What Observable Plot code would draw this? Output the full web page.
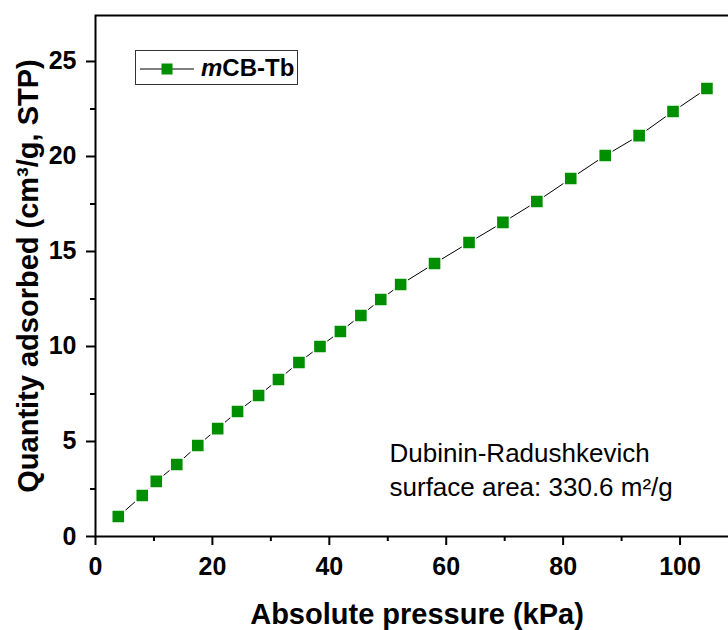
<!DOCTYPE html>
<html>
<head>
<meta charset="utf-8">
<script src="https://cdn.jsdelivr.net/npm/d3@7"></script>
<script src="https://cdn.jsdelivr.net/npm/@observablehq/plot@0.6"></script>
<style>
  html, body { margin: 0; padding: 0; background: white; }
  #wrap { position: relative; width: 728px; height: 630px; overflow: hidden; font-family: Arial, "Liberation Sans", sans-serif; }
  #legend { position: absolute; left: 135px; top: 50px; width: 163px; height: 35px; border: 1px solid #333; box-sizing: border-box; background: white; }
  #legend svg { position: absolute; left: 0; top: 0; }
  #legend .lab { position: absolute; left: 65px; top: 3px; font-size: 24px; font-weight: bold; line-height: 27px; color: #000; }
</style>
</head>
<body>
<div id="wrap"></div>
<script>
// Data
const pressure = [3.9, 8.0, 10.4, 13.9, 17.5, 20.9, 24.3, 27.9, 31.3, 34.8, 38.4, 41.9, 45.4, 48.8, 52.2, 58.0, 63.9, 69.7, 75.5, 81.3, 87.2, 93.0, 98.8, 104.6];
const quantity = [1.05, 2.16, 2.9, 3.79, 4.79, 5.68, 6.58, 7.42, 8.26, 9.16, 10.0, 10.79, 11.63, 12.47, 13.26, 14.37, 15.47, 16.53, 17.63, 18.84, 20.05, 21.1, 22.37, 23.58];
const seriesName = "mCB-Tb";
const xMajorTicks = [0, 20, 40, 60, 80, 100];
const xMinorTicks = [10, 30, 50, 70, 90];
const yMajorTicks = [0, 5, 10, 15, 20, 25];
const yMinorTicks = [2.5, 7.5, 12.5, 17.5, 22.5];
const xLabel = "Absolute pressure (kPa)";
const yLabel = "Quantity adsorbed (cm³/g, STP)";
const noteLines = ["Dubinin-Radushkevich", "surface area: 330.6 m²/g"];
const noteX = [50.3, 50.3];
const noteY = [3.9, 2.15];

const data = pressure.map((p, i) => ({p, q: quantity[i]}));
const notes = noteLines.map((t, i) => ({t, x: noteX[i], y: noteY[i]}));
const green = "#008f00";
const font = "Arial, 'Liberation Sans', sans-serif";

const chart = Plot.plot({
  width: 728,
  height: 630,
  marginLeft: 95,
  marginRight: -10,
  marginTop: 15,
  marginBottom: 94,
  style: {fontFamily: font, background: "white", overflow: "hidden"},
  x: {domain: [0, 110]},
  y: {domain: [0, 27.42]},
  marks: [
    Plot.frame({stroke: "black", strokeWidth: 2}),
    Plot.axisX(xMajorTicks, {tickSize: 9, tickPadding: 12, strokeWidth: 2, fontSize: 25, fontWeight: "bold", fill: "black", label: null}),
    Plot.axisX(xMinorTicks, {tickSize: 5, strokeWidth: 2, text: null, label: null}),
    Plot.axisY(yMajorTicks, {tickSize: 9, tickPadding: 10, strokeWidth: 2, fontSize: 25, fontWeight: "bold", fill: "black", label: null}),
    Plot.axisY(yMinorTicks, {tickSize: 5, strokeWidth: 2, text: null, label: null}),
    Plot.line(data, {x: "p", y: "q", stroke: "black", strokeWidth: 1}),
    Plot.dot(data, {x: "p", y: "q", symbol: "square", r: 7.4, fill: green, stroke: "white", strokeWidth: 1.5}),
    Plot.text(notes, {x: "x", y: "y", text: "t", textAnchor: "start", lineAnchor: "bottom", fontSize: 26, fill: "black"}),
    Plot.text([xLabel], {frameAnchor: "bottom", dy: 78, textAnchor: "middle", lineAnchor: "middle", fontSize: 29, fontWeight: "bold", fill: "black"}),
    Plot.text([yLabel], {frameAnchor: "left", dx: -67, rotate: -90, textAnchor: "middle", lineAnchor: "middle", fontSize: 29, fontWeight: "bold", fill: "black"})
  ]
});

const wrap = document.getElementById("wrap");
wrap.appendChild(chart);

// Legend (HTML overlay)
const legend = document.createElement("div");
legend.id = "legend";
legend.innerHTML = `<svg width="62" height="35"><line x1="4" y1="18" x2="58" y2="18" stroke="black" stroke-width="1"/><rect x="25.5" y="12.5" width="11" height="11" fill="${green}"/></svg><span class="lab"><i>m</i>CB-Tb</span>`;
wrap.appendChild(legend);
</script>
</body>
</html>
